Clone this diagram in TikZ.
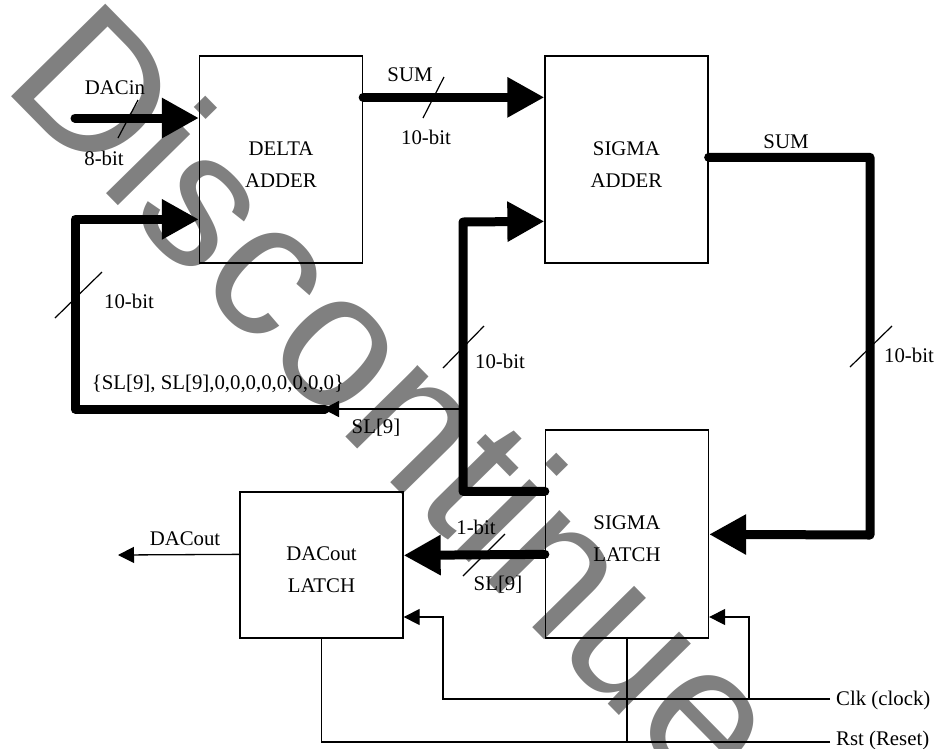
\documentclass[tikz,border=0pt]{standalone}
\usepackage{fontspec}
\setmainfont{Liberation Serif}
\newfontfamily\wmfont{Liberation Sans}
\usepackage{tikz}
\usetikzlibrary{arrows.meta, calc}
\definecolor{wmgray}{RGB}{128,128,128}

\begin{document}
\begin{tikzpicture}[x=1pt, y=-1pt,
    block/.style={rectangle, draw, line width=1.3pt, minimum width=163pt, align=center, text height=56pt, font=\fontsize{20.8}{32}\selectfont},
    lbl/.style={inner sep=0pt, font=\fontsize{20.8}{25}\selectfont},
    bus/.style={line width=9pt, line cap=round, line join=round, -{Triangle[length=37pt, width=38pt]}},
    wire/.style={line width=1.3pt},
    tip/.style={-{Triangle[length=16pt, width=16pt]}},
    tick/.style={line width=1.2pt},
    wm/.style={anchor=base west, rotate=-45.5, inner sep=0pt, text=wmgray, font=\wmfont\fontsize{192}{192}\selectfont}
]
\useasboundingbox (0,0) rectangle (935,748);

% watermark
\node[wm] (wmark) at (0,85) {Discontinue};

% blocks
\node[block, minimum height=207pt] (delta) at (281,159.5) {DELTA\\ADDER};
\node[block, minimum height=207pt] (sigadd) at (626.5,159.5) {SIGMA\\ADDER};
\node[block, minimum height=208pt] (siglatch) at (627,534) {SIGMA\\LATCH};
\node[block, minimum height=146pt] (doutlatch) at (321.5,565) {DACout\\LATCH};

% bends and free ends
\coordinate (dacin) at (75,118);
\coordinate (fbl) at (75,409);
\coordinate (slm) at (325,409);
\coordinate (slj) at (463,409);
\coordinate (sigtop) at (463,222);
\coordinate (loopbot) at (870,535);
\coordinate (dacout) at (118,555);
\coordinate (clk) at (830,699);
\coordinate (clkA) at (443,617);
\coordinate (clkB) at (749,617);
\coordinate (rst) at (830,742);

% buses
\draw[bus] (dacin) -- (dacin -| delta.west);
\draw[bus] ([yshift=-42pt]delta.north east) -- ([yshift=-42pt]sigadd.north west);
\draw[bus] (slm) -- (fbl) |- ([yshift=-164pt]delta.north west);
\draw[bus] ([yshift=-62pt]siglatch.north west) -| (sigtop) -- ([yshift=-166pt]sigadd.north west);
\draw[bus] ([yshift=-102pt]sigadd.north east) -| (loopbot) -- ([yshift=-105pt]siglatch.north east);
\draw[bus] ([yshift=-125pt]siglatch.north west) -- ([yshift=-64pt]doutlatch.north east);

% thin wires
\draw[wire, tip] (slj) -- ([xshift=-2pt]slm);
\draw[wire, tip] ([yshift=-63pt]doutlatch.north west) -- (dacout);
\draw[wire, tip] (clk) -| (clkA) -- (clkA -| doutlatch.east);
\draw[wire, tip] (clkB |- clk) -- (clkB) -- (clkB -| siglatch.east);
\draw[wire] (rst) -| (doutlatch.south);
\draw[wire] (siglatch.south) -- (siglatch.south |- rst);

% bus width marks
\draw[tick] (118,138) -- (138,100);
\draw[tick] (423,118) -- (444,77);
\draw[tick] (55,318) -- (102,272);
\draw[tick] (443,368) -- (484,326);
\draw[tick] (850,367) -- (892,326);
\draw[tick] (463,576) -- (505,534);

% labels
\node[lbl] (dacinlbl) at (115,88) {DACin};
\node[lbl] (dacinw) at (104,158) {8-bit};
\node[lbl] (sumlbl) at (410,75) {SUM};
\node[lbl] (sumw) at (426,137) {10-bit};
\node[lbl] (sumlbl2) at (786,142) {SUM};
\node[lbl] (loopw) at (909,355) {10-bit};
\node[lbl] (fbw) at (129,301) {10-bit};
\node[lbl] (fblbl) at (218,384) {\{SL[9], SL[9],0,0,0,0,0,0,0,0\}};
\node[lbl] (sllbl) at (376,428) {SL[9]};
\node[lbl] (sigw) at (500,361) {10-bit};
\node[lbl] (onebit) at (476,527) {1-bit};
\node[lbl] (sllbl2) at (498,585) {SL[9]};
\node[lbl] (dacoutlbl) at (185,539) {DACout};
\node[lbl, anchor=west] (clklbl) at (836,700) {Clk (clock)};
\node[lbl, anchor=west] (rstlbl) at (836,740) {Rst (Reset)};

\end{tikzpicture}
\end{document}
